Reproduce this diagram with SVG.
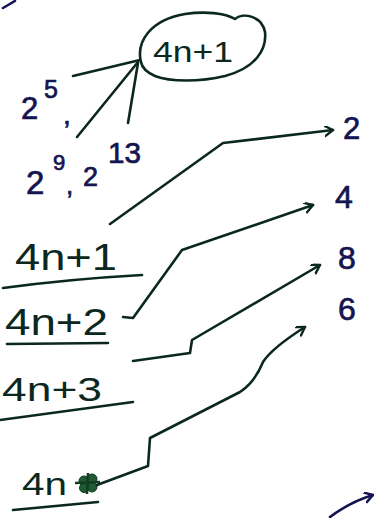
<svg xmlns="http://www.w3.org/2000/svg" width="374" height="518" viewBox="0 0 374 518">
<style>
.ink{fill:none;stroke:#0b2820;stroke-width:2.6;stroke-linecap:round;stroke-linejoin:round}
.navy{fill:none;stroke:#141450;stroke-width:2.6;stroke-linecap:round;stroke-linejoin:round}
.t{font-family:"Liberation Sans","DejaVu Sans",sans-serif;fill:#0b2820}
.tn{font-family:"Liberation Sans","DejaVu Sans",sans-serif;fill:#141450;stroke:#141450;stroke-width:0.7}
</style>
<defs>
<marker id="ah" markerWidth="12" markerHeight="12" refX="9" refY="5" orient="auto" markerUnits="userSpaceOnUse">
<path d="M1,0 L9,5 L1,10" fill="none" stroke="#0b2820" stroke-width="2.4" stroke-linecap="round" stroke-linejoin="round"/>
</marker>
<marker id="ahn" markerWidth="12" markerHeight="12" refX="9" refY="5" orient="auto" markerUnits="userSpaceOnUse">
<path d="M1,0 L9,5 L1,10" fill="none" stroke="#141450" stroke-width="2.4" stroke-linecap="round" stroke-linejoin="round"/>
</marker>
</defs>
<rect width="374" height="518" fill="#ffffff"/>

<g id="stray-top">
<path class="navy" d="M3,8 L15,1"/>
</g>

<g id="cloud">
<path class="ink" d="M141,62 C136,42 150,20 185,14 C205,11 225,13 235,19 C243,12 262,16 265,32 C267,50 255,68 225,76 C200,82 170,82 155,76 C146,72 142,68 141,62 Z"/>
<text class="t" x="153" y="62" font-size="30" textLength="80" lengthAdjust="spacingAndGlyphs">4n+1</text>
</g>

<g id="powers">
<text class="tn" font-size="31"><tspan x="21" y="119">2</tspan><tspan x="44" y="98" font-size="25">5</tspan><tspan x="63" y="124" font-size="28">,</tspan></text>
<text class="tn" font-size="33"><tspan x="26" y="194">2</tspan><tspan x="53" y="170" font-size="22">9</tspan><tspan x="66" y="194" font-size="26">,</tspan><tspan x="83" y="186" font-size="27">2</tspan><tspan x="108" y="163" font-size="29" textLength="33" lengthAdjust="spacingAndGlyphs">13</tspan></text>
</g>

<g id="row1">
<text class="t" x="15" y="270" font-size="36" textLength="102" lengthAdjust="spacingAndGlyphs">4n+1</text>
<path class="ink" d="M3,288 Q70,279 142,275"/>
</g>
<g id="row2">
<text class="t" x="5" y="335" font-size="36" textLength="103" lengthAdjust="spacingAndGlyphs">4n+2</text>
<path class="ink" d="M7,344 L108,343"/>
</g>
<g id="row3">
<text class="t" x="2" y="401" font-size="34" textLength="100" lengthAdjust="spacingAndGlyphs">4n+3</text>
<path class="ink" d="M0,420 L133,402"/>
</g>
<g id="row4">
<text class="t" x="22" y="495" font-size="31" textLength="45" lengthAdjust="spacingAndGlyphs">4n</text>
<g fill="#1f5a35" stroke="#123d22" stroke-width="1">
<circle cx="84" cy="481" r="5"/>
<circle cx="92" cy="479" r="5"/>
<circle cx="92" cy="487" r="5"/>
<circle cx="84" cy="488" r="4.5"/>
<path d="M75,483 L100,482 M88,473 L87,494" stroke-width="2.5"/>
</g>
<path class="ink" d="M13,510 L98,502"/>
</g>

<g id="results">
<text class="tn" x="343" y="139" font-size="31">2</text>
<text class="tn" x="335" y="208" font-size="32">4</text>
<text class="tn" x="338" y="269" font-size="32">8</text>
<text class="tn" x="338" y="320" font-size="32">6</text>
</g>

<g id="connectors">
<path class="ink" d="M73,76 L140,60"/>
<path class="ink" d="M77,137 L138,62"/>
<path class="ink" d="M128,123 L138,63"/>
<path class="ink" marker-end="url(#ah)" d="M110,224 L223,143 L333,130"/>
<path class="ink" marker-end="url(#ah)" d="M123,317 L133,318 L182,250 L313,205"/>
<path class="ink" marker-end="url(#ah)" d="M133,361 L190,353 L192,340 L320,265"/>
<path class="ink" marker-end="url(#ah)" d="M97,485 L148,466 L150,438 L240,392 Q255,382 263,362 Q272,348 305,327"/>
<path class="navy" marker-end="url(#ahn)" d="M330,517 Q350,502 373,495"/>
</g>
</svg>
